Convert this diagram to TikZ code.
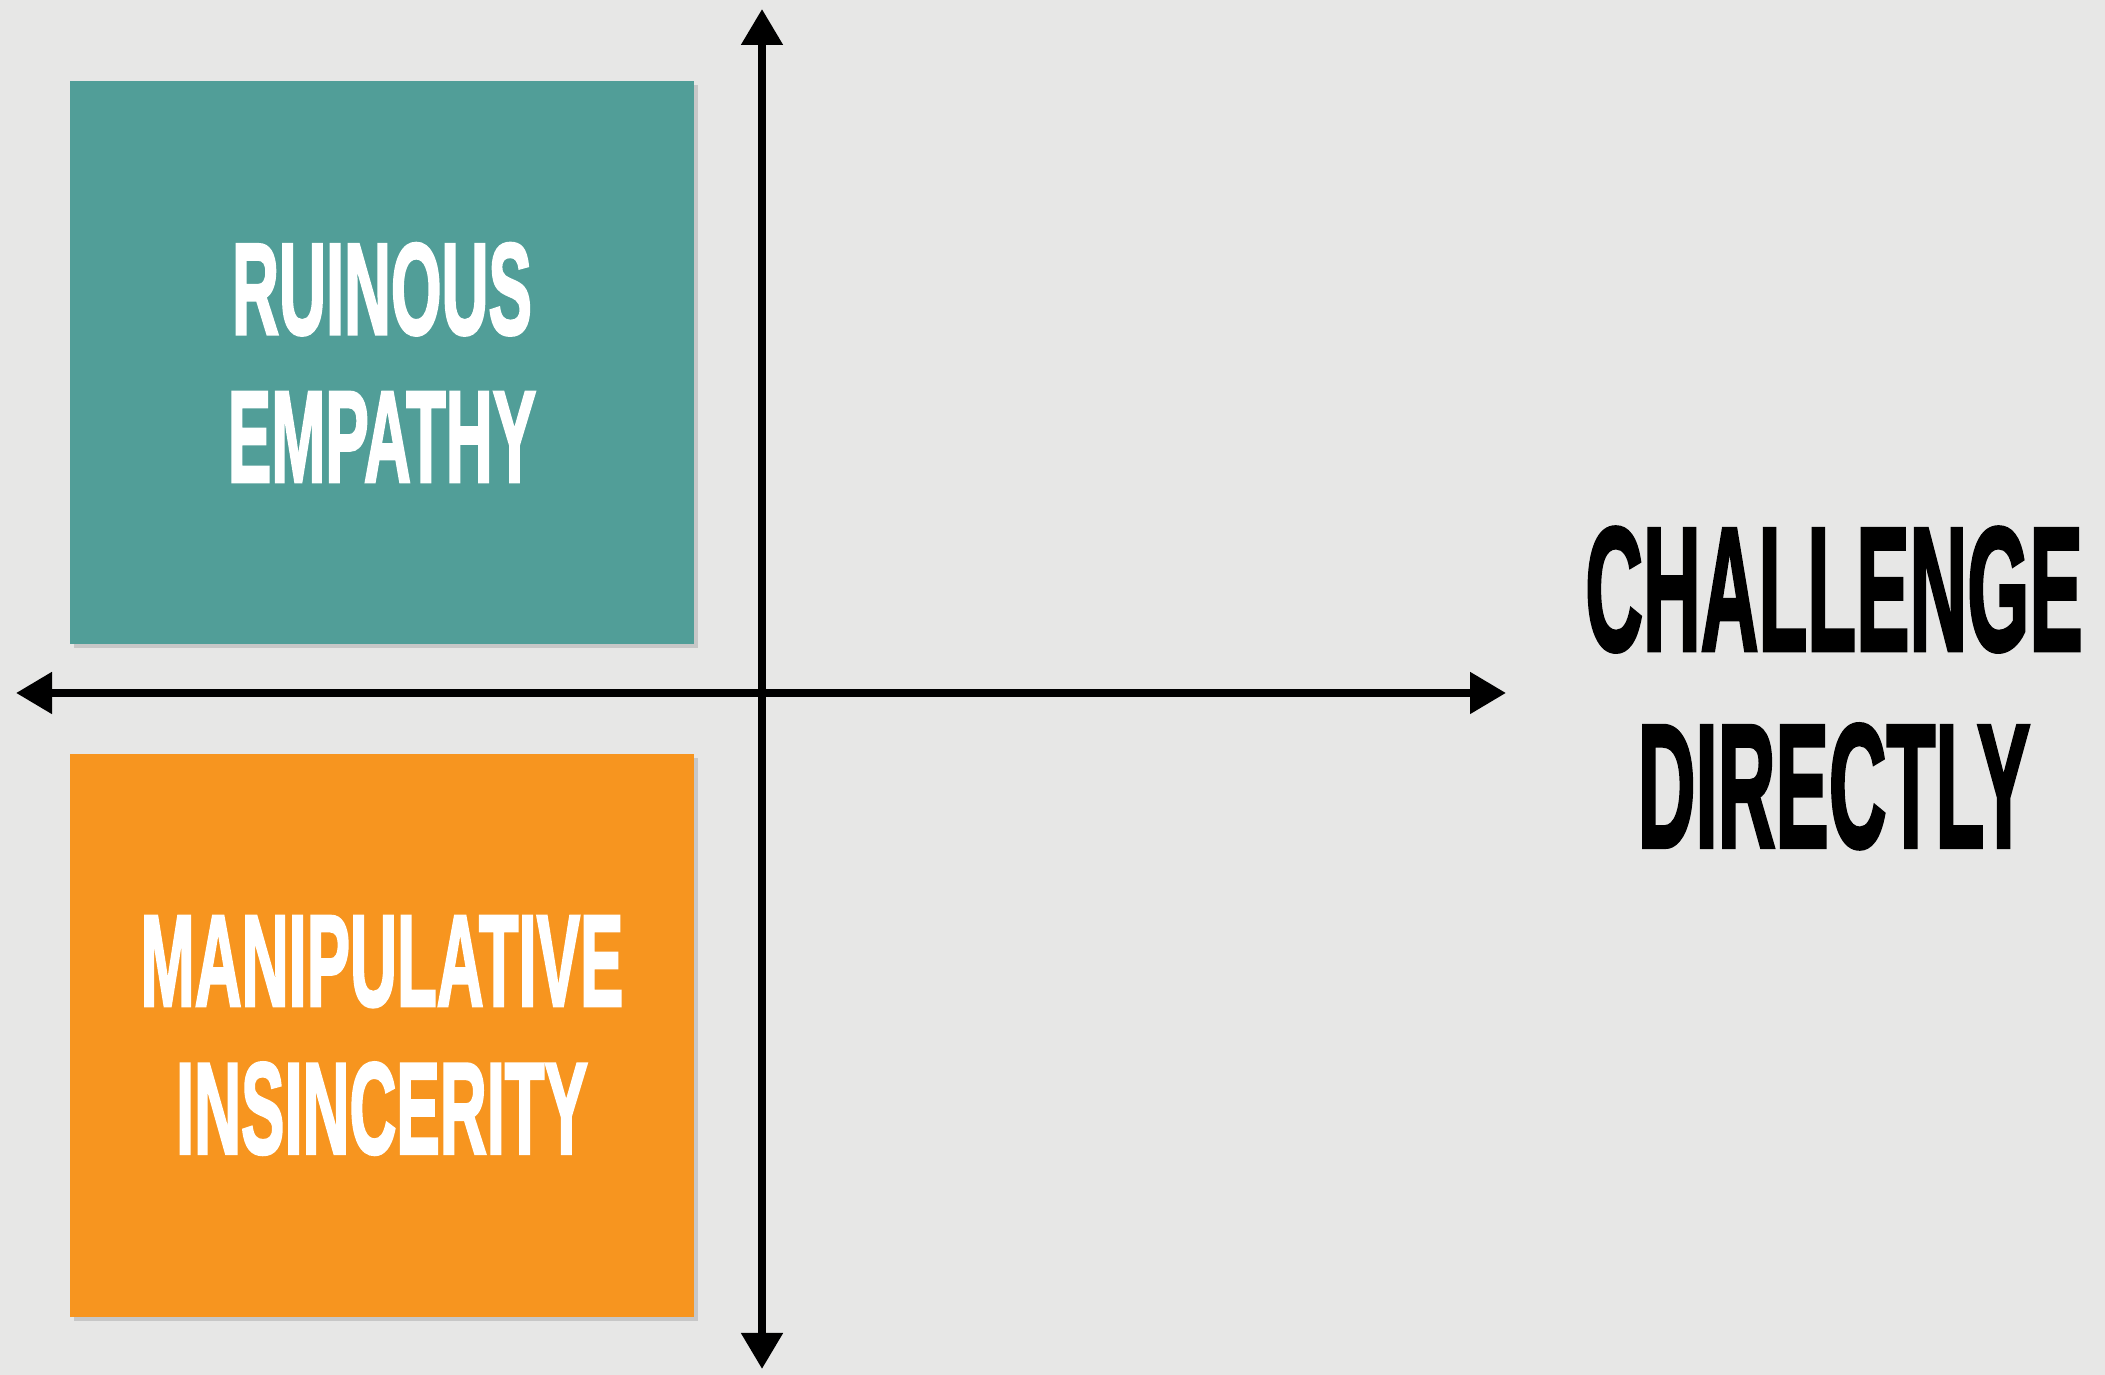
\documentclass[tikz,border=0pt]{standalone}
\usepackage{fontspec}
\newfontfamily\quadfont[FakeBold=2.5]{Liberation Sans}
\usepackage{tikz}
\usetikzlibrary{arrows.meta, positioning, shadows}
\definecolor{colorPaper}{HTML}{E7E7E6}
\definecolor{colorRuinous}{HTML}{519E98}
\definecolor{colorManipulative}{HTML}{F7951F}
\newcommand{\squeeze}[2][0.5]{\scalebox{#1}[1]{#2}}
\tikzset{quadrant/.style={minimum width=6.24cm, minimum height=5.63cm, inner sep=0pt, outer sep=0pt, align=center, text=white, font=\quadfont\bfseries\fontsize{37}{42}\selectfont, drop shadow={shadow xshift=0.04cm, shadow yshift=-0.04cm, opacity=0.3}}}

\begin{document}
\begin{tikzpicture}[>={Triangle[length=0.36cm, width=0.4cm]}, line width=2.3pt]
\fill[colorPaper] (0,0) rectangle (21.05,13.75);
\useasboundingbox (0,0) rectangle (21.05,13.75);
\node[quadrant, fill=colorRuinous] (ruinous) at (3.82,10.125) {\squeeze{RUINOUS}\\\squeeze{EMPATHY}};
\node[quadrant, fill=colorManipulative, below=1.1cm of ruinous] (manipulative) {\squeeze{MANIPULATIVE}\\\squeeze{INSINCERITY}};
\coordinate (top) at (7.62,13.66);
\coordinate (bottom) at (7.62,0.06);
\coordinate (left) at (0.16,6.82);
\coordinate (right) at (15.06,6.82);
\draw [<->] (top) -- (bottom);
\draw [<->] (left) -- (right);
\node[align=center, font=\quadfont\bfseries\fontsize{50}{56}\selectfont] (challenge) at (18.34,6.87) {\squeeze[0.455]{CHALLENGE}\\\squeeze[0.455]{DIRECTLY}};
\end{tikzpicture}
\end{document}
